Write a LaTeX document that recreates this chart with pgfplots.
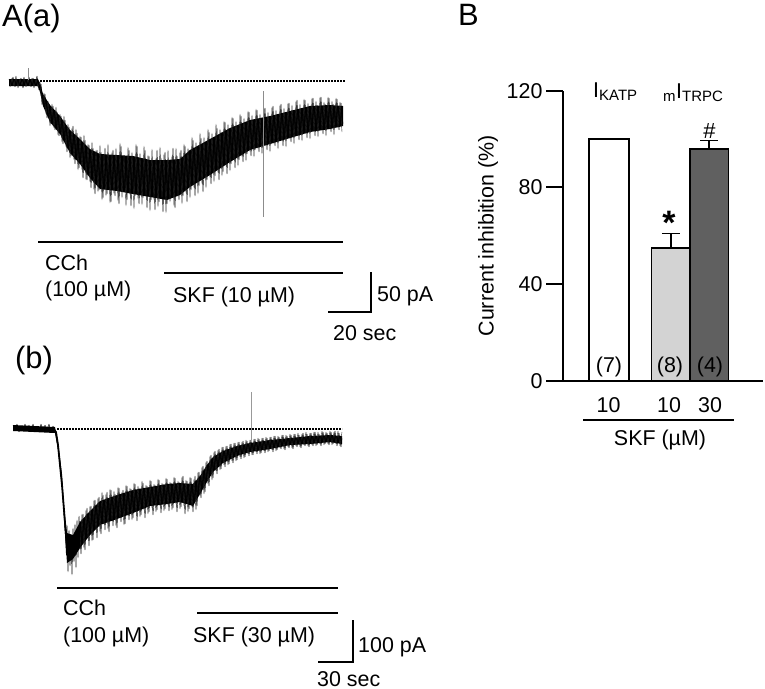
\documentclass[border=0pt]{standalone}
\usepackage{pgfplots}
\pgfplotsset{compat=1.18}
\usepackage{fontspec}
\setmainfont{Liberation Sans}
\definecolor{lightbar}{HTML}{D3D3D3}
\definecolor{darkbar}{HTML}{606060}
\newcommand{\lbl}{\fontsize{21.5}{26}\selectfont}
\newcommand{\panel}{\fontsize{31}{36}\selectfont}
\begin{document}
\begin{tikzpicture}
\useasboundingbox (0,0) rectangle (765bp,-689bp);
% ---------------- Panel B: bar chart ----------------
\begin{axis}[
  at={(563bp,-381bp)}, anchor=south west,
  scale only axis, width=200bp, height=290.3bp,
  xmin=563, xmax=763, ymin=0, ymax=120,
  axis x line=bottom, axis y line=left,
  axis line style={-, line width=2bp, black},
  ytick={0,40,80,120}, xtick=\empty,
  tick align=outside, major tick length=17bp,
  tick style={line width=2bp, black},
  /pgf/number format/assume math mode=true,
  yticklabel style={font=\lbl},
  ylabel={Current inhibition (\%)},
  every axis y label/.style={at={(axis description cs:-0.375,0.5)}, rotate=90, anchor=center, font=\lbl},
  clip=false,
]
\addplot[ybar, bar shift=0pt, bar width=40, fill=white, draw=black, line width=1.5bp] coordinates {(609,100)};
\addplot[ybar, bar shift=0pt, bar width=38.3, fill=lightbar, draw=black, line width=1.5bp,
  error bars/.cd, y dir=plus, y explicit,
  error bar style={line width=1.5bp, black},
  error mark options={rotate=90, line width=1.5bp, black, mark size=9bp}]
  coordinates {(670.85,55) +- (0,6)};
\addplot[ybar, bar shift=0pt, bar width=38.3, fill=darkbar, draw=black, line width=1.5bp,
  error bars/.cd, y dir=plus, y explicit,
  error bar style={line width=1.5bp, black},
  error mark options={rotate=90, line width=1.5bp, black, mark size=9bp}]
  coordinates {(709.15,96) +- (0,3.5)};
\end{axis}
% ---------------- Overlay axis in pixel coordinates ----------------
\begin{axis}[
  at={(0,0)}, anchor=north west,
  scale only axis, width=765bp, height=689bp,
  xmin=0, xmax=765, ymin=0, ymax=689, y dir=reverse,
  axis lines=none, clip=false,
]
% ===== A(a) trace =====
\addplot[fill=black, draw=none] coordinates {
(9,79)(38,79)(40,83)(43,94)(50,105)(60,116)(70,130)(80,139)(90,149)(100,154)(117,155)(133,156)(150,160)(167,160)(180,159)(190,150)(210,139)(230,128)(250,120)(270,116)(290,111)(310,106)(330,105)(343,106)
(343,126)(330,129)(310,132)(290,138)(270,144)(250,150)(230,162)(210,175)(190,187)(180,195)(167,200)(150,197)(133,194)(117,191)(100,189)(90,178)(80,164)(70,153)(60,134)(50,122)(43,106)(40,92)(38,86)(9,86)};
\addplot[black, line width=0.45bp, line join=round] coordinates {
(9,79)(11,86)(13,77)(15,87)(17,79)(19,85)(21,78)(23,88)(25,80)(27,86)(29,77)(31,87)(33,78)(35,85)(37,76)(39,90)(41,84)(43,104)(45,94)(47,118)(49,104)(51,124)(53,106)(55,130)(57,112)(59,136)(61,116)(63,144)(65,120)(67,152)(69,127)(71,156)(73,126)(75,164)(77,133)(79,168)(81,137)(83,178)(85,140)(87,180)(89,145)(91,188)(93,148)(95,194)(97,150)(99,190)(101,152)(103,198)(105,148)(107,194)(109,160)(111,202)(113,150)(115,196)(117,156)(119,204)(121,146)(123,192)(125,162)(127,200)(129,150)(131,206)(133,158)(135,196)(137,146)(139,204)(141,160)(143,198)(145,150)(147,208)(149,156)(151,200)(153,162)(155,210)(157,150)(159,202)(161,158)(163,212)(165,152)(167,204)(169,160)(171,198)(173,148)(175,208)(177,156)(179,200)(181,150)(183,196)(185,146)(187,202)(189,150)(191,190)(193,140)(195,196)(197,146)(199,186)(201,138)(203,192)(205,142)(207,180)(209,132)(211,184)(213,138)(215,176)(217,128)(219,180)(221,132)(223,172)(225,122)(227,174)(229,128)(231,164)(233,118)(235,168)(237,126)(239,160)(241,116)(243,162)(245,122)(247,154)(249,112)(251,156)(253,120)(255,150)(257,110)(259,152)(261,118)(263,148)(265,108)(267,150)(269,116)(271,144)(273,106)(275,146)(277,114)(279,140)(281,104)(283,146)(285,112)(287,138)(289,103)(291,142)(293,110)(295,136)(297,100)(299,140)(301,108)(303,134)(305,100)(307,138)(309,106)(311,132)(313,98)(315,136)(317,105)(319,130)(321,97)(323,134)(325,104)(327,128)(329,98)(331,132)(333,104)(335,126)(337,99)(339,130)(341,103)(343,124)};
\addplot[black!85, line width=0.4bp, line join=round] coordinates {
(10,87)(12,78)(14,86)(16,76)(18,88)(20,79)(22,85)(24,77)(26,87)(28,79)(30,86)(32,78)(34,88)(36,79)(38,87)(40,82)(42,105)(44,93)(46,114)(48,101)(50,126)(52,104)(54,128)(56,107)(58,135)(60,114)(62,142)(64,116)(66,147)(68,124)(70,158)(72,128)(74,160)(76,129)(78,170)(80,136)(82,170)(84,135)(86,180)(88,144)(90,182)(92,142)(94,190)(96,150)(98,192)(100,145)(102,200)(104,154)(106,196)(108,144)(110,203)(112,152)(114,194)(116,148)(118,201)(120,143)(122,198)(124,155)(126,206)(128,147)(130,195)(132,152)(134,209)(136,144)(138,199)(140,153)(142,205)(144,146)(146,196)(148,155)(150,211)(152,149)(154,200)(156,158)(158,207)(160,147)(162,198)(164,154)(166,213)(168,150)(170,202)(172,156)(174,206)(176,148)(178,197)(180,152)(182,204)(184,144)(186,193)(188,148)(190,198)(192,137)(194,188)(196,142)(198,194)(200,133)(202,184)(204,137)(206,188)(208,129)(210,178)(212,133)(214,182)(216,124)(218,173)(220,129)(222,176)(224,121)(226,166)(228,124)(230,171)(232,117)(234,160)(236,121)(238,166)(240,114)(242,157)(244,118)(246,161)(248,111)(250,152)(252,115)(254,157)(256,109)(258,149)(260,114)(262,154)(264,108)(266,146)(268,112)(270,152)(272,107)(274,144)(276,110)(278,149)(280,105)(282,141)(284,108)(286,147)(288,103)(290,139)(292,105)(294,144)(296,101)(298,136)(300,104)(302,141)(304,99)(306,134)(308,103)(310,139)(312,98)(314,131)(316,101)(318,137)(320,97)(322,130)(324,102)(326,136)(328,97)(330,129)(332,101)(334,135)(336,98)(338,128)(340,102)(342,132)};
\addplot[black!45, line width=0.6bp] coordinates {(263,91)(263,217)};
\addplot[black!45, line width=0.6bp] coordinates {(28,68)(28,80)};
\addplot[black, line width=1.6bp, dash pattern=on 1.5bp off 1.5bp] coordinates {(40,81)(345,81)};
% drug bars and scale bar A
\addplot[black, line width=2.5bp] coordinates {(38,242)(343,242)};
\addplot[black, line width=2.5bp] coordinates {(164,273)(343,273)};
\addplot[black, line width=2bp] coordinates {(328,312)(371,312)(371,272)};
% ===== (b) trace =====
\addplot[fill=black, draw=none] coordinates {
(13,425)(55,427)(58,442)(62,474)(64,505)(66,527)(67,533)(73,535)(80,522)(90,511)(100,501)(117,495)(133,490)(150,487)(167,484)(180,483)(193,484)(200,476)(207,465)(213,457)(223,451)(237,446)(250,443)(270,440)(290,438)(310,436)(330,435)(342,436)
(342,444)(330,442)(310,444)(290,445)(270,449)(250,452)(237,456)(223,463)(213,472)(207,482)(200,494)(193,506)(180,502)(167,504)(150,506)(133,513)(117,519)(100,525)(90,535)(80,548)(73,559)(67,563)(66,548)(64,520)(62,486)(58,450)(55,433)(13,431)};
\addplot[black, line width=0.45bp, line join=round] coordinates {
(13,425)(15,431)(17,424)(19,432)(21,426)(23,430)(25,424)(27,431)(29,425)(31,432)(33,424)(35,430)(37,426)(39,432)(41,424)(43,431)(45,425)(47,430)(49,424)(51,432)(53,426)(55,431)(56,434)(57,440)(58,447)(59,455)(60,465)(61,475)(62,485)(63,500)(64,512)(65,528)(66,540)(67,525)(68,572)(69,530)(70,566)(71,535)(72,575)(73,528)(74,562)(75,524)(76,568)(77,520)(78,558)(79,516)(81,554)(83,514)(85,550)(87,508)(89,546)(91,506)(93,540)(95,500)(97,538)(99,497)(101,534)(103,495)(105,530)(107,492)(109,532)(111,490)(113,526)(115,494)(117,528)(119,488)(121,522)(123,490)(125,524)(127,486)(129,520)(131,489)(133,518)(135,484)(137,521)(139,488)(141,515)(143,483)(145,518)(147,486)(149,512)(151,481)(153,515)(155,485)(157,510)(159,480)(161,513)(163,484)(165,509)(167,479)(169,511)(171,483)(173,508)(175,478)(177,512)(179,482)(181,507)(183,476)(185,514)(187,481)(189,509)(191,478)(193,512)(195,476)(197,506)(199,472)(201,498)(203,466)(205,492)(207,461)(209,486)(211,455)(213,478)(215,451)(217,474)(219,449)(221,469)(223,447)(225,467)(227,446)(229,464)(231,444)(233,463)(235,443)(237,460)(239,442)(241,459)(243,441)(245,457)(247,441)(249,456)(251,440)(253,455)(255,439)(257,454)(259,439)(261,453)(263,438)(265,453)(267,438)(269,451)(271,437)(273,452)(275,436)(277,450)(279,437)(281,449)(283,435)(285,450)(287,436)(289,448)(291,435)(293,449)(295,434)(297,447)(299,435)(301,448)(303,433)(305,446)(307,434)(309,447)(311,433)(313,446)(315,432)(317,445)(319,434)(321,446)(323,432)(325,444)(327,433)(329,445)(331,432)(333,444)(335,431)(337,446)(339,433)(341,447)(342,438)};
\addplot[black!85, line width=0.4bp, line join=round] coordinates {
(80,550)(82,514)(84,548)(86,510)(88,538)(90,506)(92,541)(94,500)(96,530)(98,498)(100,532)(102,492)(104,524)(106,494)(108,529)(110,489)(112,520)(114,491)(116,526)(118,487)(120,518)(122,492)(124,525)(126,485)(128,516)(130,488)(132,520)(134,483)(136,512)(138,486)(140,517)(142,481)(144,510)(146,485)(148,514)(150,480)(152,508)(154,484)(156,512)(158,479)(160,506)(162,483)(164,511)(166,478)(168,505)(170,482)(172,510)(174,477)(176,504)(178,481)(180,509)(182,477)(184,506)(186,480)(188,512)(190,477)(192,507)(194,479)(196,510)(198,472)(200,496)(202,467)(204,494)(206,462)(208,484)(210,456)(212,480)(214,452)(216,471)(218,450)(220,470)(222,447)(224,465)(226,446)(228,465)(230,444)(232,461)(234,443)(236,461)(238,442)(240,457)(242,442)(244,458)(246,440)(248,454)(250,440)(252,455)(254,439)(256,452)(258,438)(260,454)(262,438)(264,451)(266,437)(268,452)(270,437)(272,450)(274,436)(276,451)(278,436)(280,448)(282,435)(284,449)(286,435)(288,447)(290,434)(292,448)(294,434)(296,446)(298,433)(300,447)(302,434)(304,445)(306,432)(308,446)(310,433)(312,445)(314,432)(316,446)(318,432)(320,444)(322,431)(324,445)(326,432)(328,444)(330,431)(332,445)(334,432)(336,444)(338,431)(340,446)(342,432)};
\addplot[black, line width=1.8bp, line join=round] coordinates {(53,428)(56,432)(58,445)(60,465)(62,485)(64,510)(66,535)(67,555)};
\addplot[black!40, line width=0.7bp] coordinates {(251,392)(251,440)};
\addplot[black, line width=1.6bp, dash pattern=on 1.5bp off 1.5bp] coordinates {(57,429)(342,429)};
% drug bars and scale bar B
\addplot[black, line width=2.5bp] coordinates {(57,588)(338,588)};
\addplot[black, line width=2.5bp] coordinates {(197,613)(338,613)};
\addplot[black, line width=2bp] coordinates {(318,662)(353,662)(353,620)};
% ===== texts =====
\node[anchor=base west, font=\panel, inner sep=0pt] at (axis cs:2,26) {A(a)};
\node[anchor=base west, font=\panel, inner sep=0pt] at (axis cs:15,368) {(b)};
\node[anchor=base west, font=\panel, inner sep=0pt] at (axis cs:458,25) {B};
\node[anchor=base west, font=\lbl, inner sep=0pt] at (axis cs:45,270) {CCh};
\node[anchor=base west, font=\lbl, inner sep=0pt] at (axis cs:45,296) {(100 µM)};
\node[anchor=base west, font=\lbl, inner sep=0pt] at (axis cs:173,302) {SKF (10 µM)};
\node[anchor=base west, font=\lbl, inner sep=0pt] at (axis cs:377,301) {50 pA};
\node[anchor=base west, font=\lbl, inner sep=0pt] at (axis cs:333,340) {20 sec};
\node[anchor=base west, font=\lbl, inner sep=0pt] at (axis cs:63,615) {CCh};
\node[anchor=base west, font=\lbl, inner sep=0pt] at (axis cs:63,642) {(100 µM)};
\node[anchor=base west, font=\lbl, inner sep=0pt] at (axis cs:193,642) {SKF (30 µM)};
\node[anchor=base west, font=\lbl, inner sep=0pt] at (axis cs:358,652) {100 pA};
\node[anchor=base west, font=\lbl, inner sep=0pt] at (axis cs:317,686) {30 sec};
% panel B annotations
\node[anchor=base west, font=\lbl, inner sep=0pt] at (axis cs:593,97) {I\textsubscript{KATP}};
\node[anchor=base west, font=\lbl, inner sep=0pt] at (axis cs:663,98) {\textsubscript{m}I\textsubscript{TRPC}};
\node[anchor=north, font=\fontsize{34}{38}\selectfont\bfseries, inner sep=0pt] at (axis cs:669,211) {*};
\node[anchor=base, font=\fontsize{22}{26}\selectfont, inner sep=0pt] at (axis cs:709.5,138) {\#};
\node[anchor=base, font=\lbl, inner sep=0pt] at (axis cs:609,372) {(7)};
\node[anchor=base, font=\lbl, inner sep=0pt] at (axis cs:670,372) {(8)};
\node[anchor=base, font=\lbl, inner sep=0pt] at (axis cs:710,372) {(4)};
\node[anchor=base, font=\lbl, inner sep=0pt] at (axis cs:608.5,412) {10};
\node[anchor=base, font=\lbl, inner sep=0pt] at (axis cs:669,412) {10};
\node[anchor=base, font=\lbl, inner sep=0pt] at (axis cs:710,412) {30};
\addplot[black, line width=2.5bp] coordinates {(583,420)(734,420)};
\node[anchor=base, font=\lbl, inner sep=0pt] at (axis cs:660,445) {SKF (µM)};
\end{axis}
\end{tikzpicture}
\end{document}
